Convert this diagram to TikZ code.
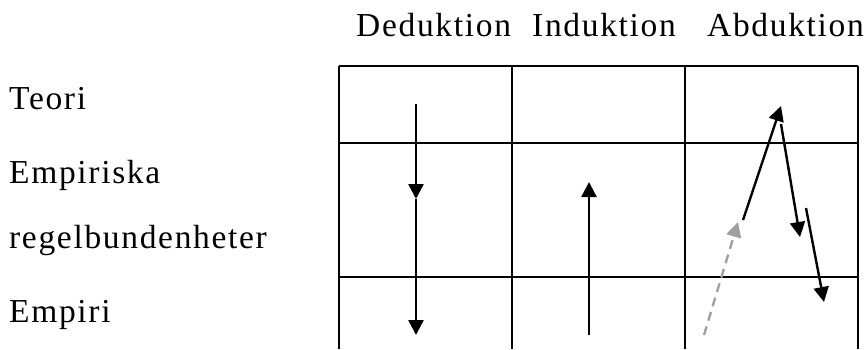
\documentclass[tikz,border=0pt]{standalone}
\usepackage{fontspec}
\setmainfont{Liberation Serif}[LetterSpace=5]
\usepackage{xcolor}
\usetikzlibrary{arrows.meta}
\definecolor{abdgray}{HTML}{A0A0A0}
\tikzset{
  lbl/.style={anchor=base west, inner sep=0pt, font=\fontsize{33.5}{40}\selectfont},
  gridline/.style={line width=1.4pt, draw=black},
  flow/.style={-{Triangle[length=15pt, width=15pt]}, line width=2.4pt, draw=black},
  flowg/.style={flow, draw=abdgray, dash pattern=on 9pt off 6pt},
}

\begin{document}
\begin{tikzpicture}[x=1pt, y=-1pt]
  \useasboundingbox (0,0) rectangle (866,349);

  % headings
  \node[lbl] (ded) at (356,36) {Deduktion};
  \node[lbl] (ind) at (532,36) {Induktion};
  \node[lbl] (abd) at (707,36) {Abduktion};

  % row labels
  \node[lbl] (teori) at (9,109) {Teori};
  \node[lbl] (emp) at (9,183) {Empiriska};
  \node[lbl] (regel) at (9,248) {regelbundenheter};
  \node[lbl] (empiri) at (9,322) {Empiri};

  % table
  \foreach \y in {66,143,277}
    \draw[gridline] (339,\y) -- (858,\y);
  \foreach \x in {339,512,685,858}
    \draw[gridline] (\x,66) -- (\x,349);

  % deduktion
  \coordinate (d1) at (416,104);
  \coordinate (d2) at (416,199);
  \coordinate (d3) at (416,335);
  \draw[flow] (d1) -- (d2);
  \draw[flow] (d2) -- (d3);

  % induktion
  \coordinate (i1) at (589,335);
  \coordinate (i2) at (589,182);
  \draw[flow] (i1) -- (i2);

  % abduktion
  \coordinate (g1) at (704,335);
  \coordinate (g2) at (738,222);
  \coordinate (a1) at (743,220);
  \coordinate (a2) at (781,106);
  \coordinate (b1) at (781,124);
  \coordinate (b2) at (800,237);
  \coordinate (c1) at (806,208);
  \coordinate (c2) at (824,302);
  \draw[flowg] (g1) -- (g2);
  \draw[flow] (a1) -- (a2);
  \draw[flow] (b1) -- (b2);
  \draw[flow] (c1) -- (c2);
\end{tikzpicture}
\end{document}
